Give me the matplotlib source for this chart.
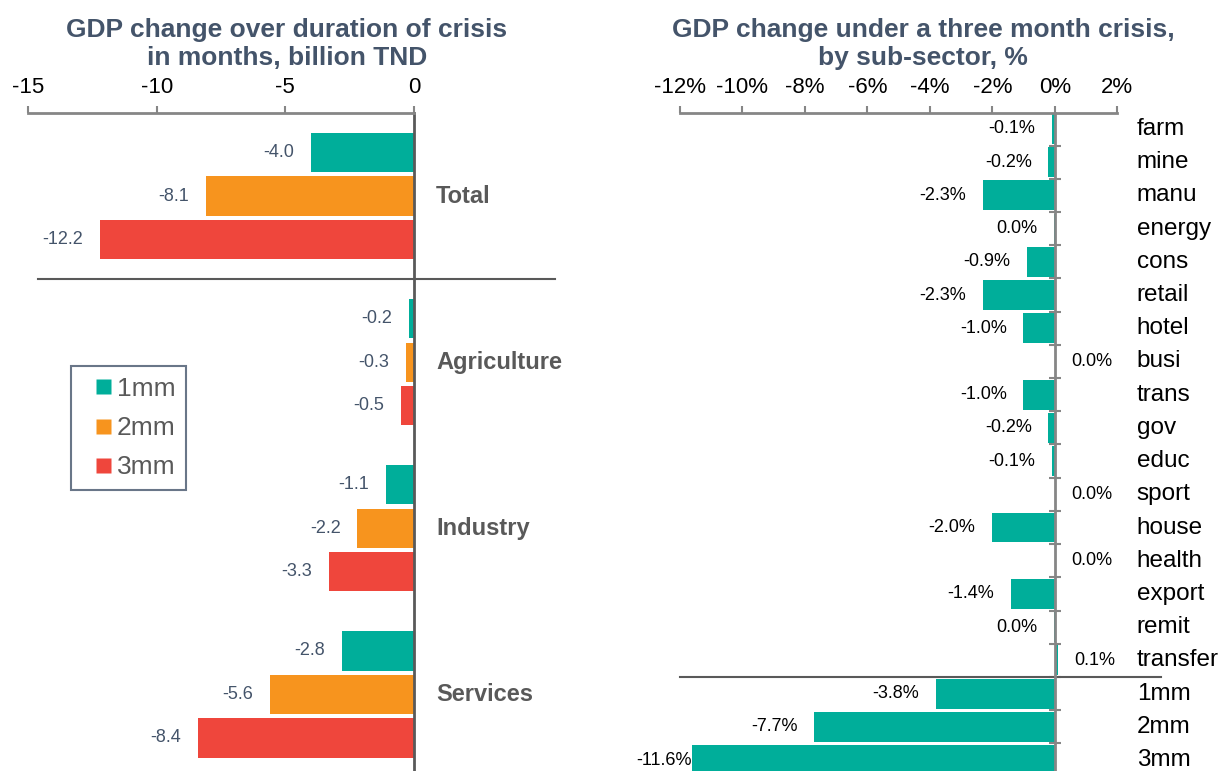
import numpy as np
import matplotlib.pyplot as plt
from matplotlib.lines import Line2D

plt.rcParams['font.family'] = ['Liberation Sans', 'DejaVu Sans']

# left panel: GDP change by duration, billion TND
groups = ["Total", "Agriculture", "Industry", "Services"]
series = ["1mm", "2mm", "3mm"]
gdp_1mm = [-4.0, -0.2, -1.1, -2.8]
gdp_2mm = [-8.1, -0.3, -2.2, -5.6]
gdp_3mm = [-12.2, -0.5, -3.3, -8.4]
left_ticks = [-15, -10, -5, 0]

# right panel: three month crisis by sub-sector, %
sectors = ["farm", "mine", "manu", "energy", "cons", "retail", "hotel", "busi",
           "trans", "gov", "educ", "sport", "house", "health", "export", "remit",
           "transfer", "1mm", "2mm", "3mm"]
pct = [-0.1, -0.2, -2.3, -0.01, -0.9, -2.3, -1.0, 0.01, -1.0, -0.2, -0.1, 0.01,
       -2.0, 0.01, -1.4, -0.01, 0.1, -3.8, -7.7, -11.6]
right_ticks = [-12, -10, -8, -6, -4, -2, 0, 2]

colors = ["#00AE9A", "#F7941E", "#EF463C"]
title_col = "#44546A"
grey = "#868686"
dark = "#595959"

W, H = 1219, 771
fig = plt.figure(figsize=(W / 100, H / 100), dpi=100)

# ---------------- left ----------------
axL = fig.add_axes([28 / W, 0, 530 / W, 658 / H])
gs = 3.82
for j, vals in enumerate([gdp_1mm, gdp_2mm, gdp_3mm]):
    ys = np.arange(len(groups)) * gs + (j - 1)
    axL.barh(ys, vals, height=0.9, color=colors[j], label=series[j])
    for y, v in zip(ys, vals):
        axL.annotate(f"{v:.1f}", (v, y), xytext=(-12, 0), textcoords="offset points",
                     ha="right", va="center", fontsize=13, color=title_col)
for i, g in enumerate(groups):
    axL.annotate(g, (0, i * gs), xytext=(16, 0), textcoords="offset points",
                 ha="left", va="center", fontsize=17, fontweight="bold", color=dark)

axL.set_xlim(-15, 5.6)
axL.set_ylim(3 * gs + 1.76, -1.91)
axL.plot([-14.6, 5.5], [gs / 2, gs / 2], color=dark, lw=1.5, clip_on=False)

for s in ["right", "bottom"]:
    axL.spines[s].set_visible(False)
axL.spines["left"].set_position(("data", 0))
axL.spines["left"].set_color(dark)
axL.spines["left"].set_linewidth(2)
axL.spines["top"].set_bounds(-15, 0)
axL.spines["top"].set_color(grey)
axL.spines["top"].set_linewidth(2)
axL.xaxis.tick_top()
axL.set_xticks(left_ticks)
axL.set_xticklabels([str(t) for t in left_ticks])
axL.tick_params(axis="x", direction="out", length=5, width=1.5, color=grey,
                labelsize=16, pad=6)
axL.set_yticks([])

fig.text(287 / W, 1 - 44 / H, "GDP change over duration of crisis\nin months, billion TND",
         ha="center", va="center", fontsize=19, fontweight="bold", color=title_col,
         linespacing=1.2)

handles = [Line2D([], [], marker="s", linestyle="none", markersize=10.8,
                  markerfacecolor=c, markeredgecolor="none") for c in colors]
leg = fig.legend(handles, series, loc="upper left", bbox_to_anchor=(71 / W, 1 - 366 / H),
                 fontsize=19, frameon=True, fancybox=False, handlelength=1.66,
                 handletextpad=-0.32, labelspacing=0.58,
                 borderpad=0.4, borderaxespad=0)
leg.get_frame().set_edgecolor(title_col)
leg.get_frame().set_linewidth(1.5)
for t in leg.get_texts():
    t.set_color(dark)

# ---------------- right ----------------
axR = fig.add_axes([680 / W, 0, 484 / W, 658 / H])
yr = np.arange(len(sectors))
axR.barh(yr, pct, height=0.9, color=colors[0])
for y, v, name in zip(yr, pct, sectors):
    lbl = f"{v:.1f}%".replace("-0.0%", "0.0%")
    if v < 0:
        if v - 0.55 - 1.85 < -13.4:
            axR.text(-13.4, y, lbl, ha="left", va="center", fontsize=13)
        else:
            axR.annotate(lbl, (v, y), xytext=(-12, 0), textcoords="offset points",
                         ha="right", va="center", fontsize=13)
    else:
        axR.annotate(lbl, (v, y), xytext=(12, 0), textcoords="offset points",
                     ha="left", va="center", fontsize=13)
    axR.annotate(name, (0, y), xytext=(59, 0), textcoords="offset points",
                 ha="left", va="center", fontsize=17.5)

axR.set_xlim(-12, 3.5)
axR.set_ylim(len(sectors) - 1 + 0.33, -0.48)
axR.plot([-12, 3.4], [16.5, 16.5], color=dark, lw=1.5, clip_on=False)

for s in ["right", "bottom"]:
    axR.spines[s].set_visible(False)
axR.spines["left"].set_position(("data", 0))
axR.spines["left"].set_color(grey)
axR.spines["left"].set_linewidth(2)
axR.spines["top"].set_bounds(-12, 2)
axR.spines["top"].set_color(grey)
axR.spines["top"].set_linewidth(2)
axR.xaxis.tick_top()
axR.set_xticks(right_ticks)
axR.set_xticklabels([f"{t}%" for t in right_ticks])
axR.tick_params(axis="x", direction="out", length=5, width=1.5, color=grey,
                labelsize=16, pad=6)
axR.set_yticks(np.arange(0.5, len(sectors) - 1, 1))
axR.set_yticklabels([])
axR.tick_params(axis="y", direction="inout", length=9, width=1.5, color=grey)

fig.text(923 / W, 1 - 44 / H, "GDP change under a three month crisis,\nby sub-sector, %",
         ha="center", va="center", fontsize=19, fontweight="bold", color=title_col,
         linespacing=1.2)

fig.savefig("out.png", dpi=100)
